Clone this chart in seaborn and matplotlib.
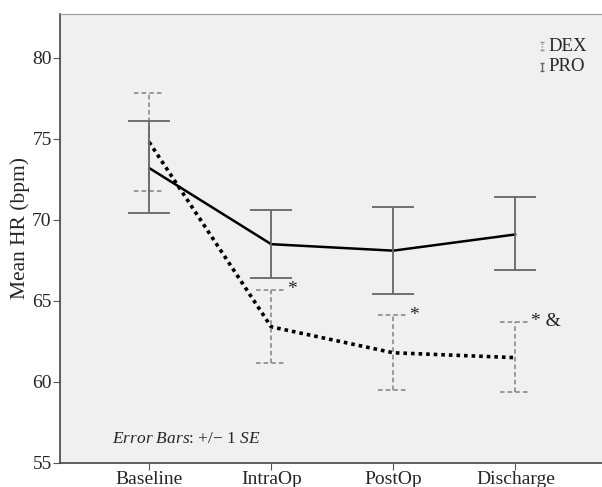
import numpy as np
import pandas as pd
import matplotlib
matplotlib.use("Agg")
import matplotlib.pyplot as plt
import seaborn as sns

times = ["Baseline", "IntraOp", "PostOp", "Discharge"]
dex_mean = [74.8, 63.4, 61.8, 61.5]
dex_lo = [71.8, 61.2, 59.5, 59.4]
dex_hi = [77.8, 65.7, 64.1, 63.7]
pro_mean = [73.2, 68.5, 68.1, 69.1]
pro_lo = [70.4, 66.4, 65.4, 66.9]
pro_hi = [76.1, 70.6, 70.8, 71.4]
marks = ["*", "*", "* &"]

sns.set_style("white")
plt.rcParams["font.family"] = ["Liberation Serif", "DejaVu Serif"]
plt.rcParams["mathtext.fontset"] = "custom"
plt.rcParams["mathtext.rm"] = "Liberation Serif"
plt.rcParams["mathtext.it"] = "Liberation Serif:italic"

df = pd.DataFrame({
    "time": times * 2,
    "hr": dex_mean + pro_mean,
    "group": ["DEX"] * 4 + ["PRO"] * 4,
})
df["x"] = df["time"].map({t: i for i, t in enumerate(times)})

fig = plt.figure(figsize=(6.02, 4.87), dpi=100)
ax = fig.add_axes([60 / 602, 24 / 487, 1 - 60 / 602, 449 / 487])
ax.set_facecolor("#f0f0f0")

sns.lineplot(data=df[df.group == "DEX"], x="x", y="hr", ax=ax, color="black",
             lw=2.6, linestyle=(0, (1, 1.1)), legend=False)
sns.lineplot(data=df[df.group == "PRO"], x="x", y="hr", ax=ax, color="black",
             lw=1.8, legend=False)

xs = np.arange(len(times))
gray_d = "#808080"
ax.vlines(xs, dex_lo, dex_hi, colors=gray_d, lw=1.1, linestyles=(0, (3, 2)))
ax.hlines(dex_lo + dex_hi, list(xs - 0.123) * 2, list(xs + 0.123) * 2,
          colors=gray_d, lw=1.1, linestyles=(0, (3, 2)))
ax.errorbar(xs, pro_mean, yerr=[np.subtract(pro_mean, pro_lo), np.subtract(pro_hi, pro_mean)],
            fmt="none", ecolor="#666666", elinewidth=1.3, capsize=15, capthick=1.3)

for i, m in enumerate(marks):
    ax.text(xs[i + 1] + 0.13, dex_hi[i + 1], m, fontsize=14, ha="left", va="center")

ax.text(-0.30, 56.0, r"$\it{Error\ Bars}$: +/$\mathrm{-}$ 1 $\it{SE}$", fontsize=12.5, va="bottom")

# legend
ax.vlines(3.22, 80.45, 80.95, colors="#999999", lw=1, linestyles=(0, (1, 1)))
ax.hlines([80.45, 80.95], 3.205, 3.235, colors="#999999", lw=1)
ax.vlines(3.22, 79.2, 79.7, colors="#666666", lw=1)
ax.hlines([79.2, 79.7], 3.205, 3.235, colors="#666666", lw=1)
ax.text(3.27, 80.7, "DEX", fontsize=13.5, va="center")
ax.text(3.27, 79.45, "PRO", fontsize=13.5, va="center")

ax.set_xlim(-0.73, 3.71)
ax.set_ylim(55, 82.7)
ax.set_xticks(xs)
ax.set_xticklabels(times, fontsize=14)
ax.set_yticks([55, 60, 65, 70, 75, 80])
ax.tick_params(axis="both", length=5, color="#555555", direction="out", pad=1)
ax.tick_params(axis="y", labelsize=14, left=True)
ax.tick_params(axis="x", labelsize=14, bottom=True)
ax.set_xlabel("")
ax.set_ylabel("Mean HR (bpm)", fontsize=15.5)
ax.yaxis.set_label_coords(-0.055, 0.523)
for s in ["left", "bottom"]:
    ax.spines[s].set_color("#444444")
    ax.spines[s].set_linewidth(1.2)
ax.spines["top"].set_color("#999999")
ax.spines["right"].set_visible(False)

fig.savefig("out.png", dpi=100)
